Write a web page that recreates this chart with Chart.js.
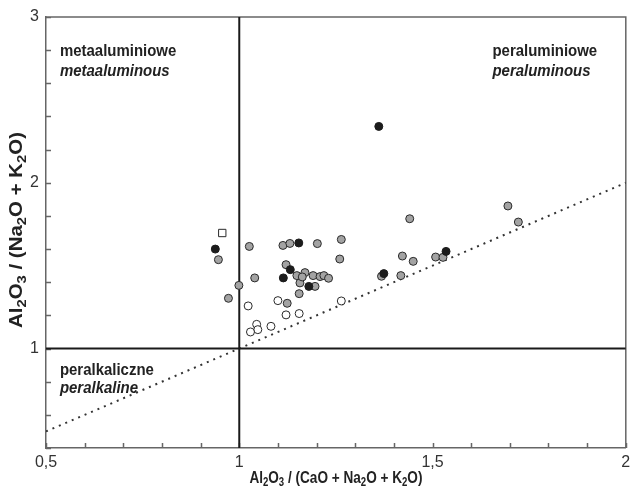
<!DOCTYPE html>
<html>
<head>
<meta charset="utf-8">
<script src="https://cdn.jsdelivr.net/npm/chart.js@4.4.0/dist/chart.umd.min.js"></script>
<style>
  body { margin: 0; background: #fff; }
</style>
</head>
<body>
<canvas id="chart-asi" width="632" height="488"></canvas>
<script>
// samples, [A/CNK, A/NK]
var blackPts = [[1.361, 2.34], [0.938, 1.60], [1.154, 1.637], [1.132, 1.476], [1.114, 1.426],
    [1.180, 1.375], [1.374, 1.452], [1.535, 1.586]];
var grayPts = [[0.946, 1.536], [1.026, 1.616], [0.972, 1.303], [0.999, 1.381], [1.040, 1.426],
    [1.113, 1.622], [1.131, 1.634], [1.202, 1.633], [1.264, 1.658], [1.260, 1.540], [1.121, 1.506],
    [1.149, 1.440], [1.170, 1.458], [1.157, 1.396], [1.163, 1.432], [1.191, 1.440], [1.209, 1.434],
    [1.219, 1.440], [1.231, 1.424], [1.196, 1.375], [1.155, 1.331], [1.124, 1.273], [1.441, 1.783],
    [1.422, 1.558], [1.450, 1.526], [1.418, 1.440], [1.368, 1.436], [1.695, 1.860], [1.722, 1.763],
    [1.508, 1.552], [1.527, 1.550]];
var openPts = [[1.023, 1.257], [1.100, 1.289], [1.264, 1.287], [1.121, 1.203], [1.155, 1.211],
    [1.045, 1.146], [1.048, 1.114], [1.029, 1.100], [1.082, 1.134]];
var squarePts = [[0.956, 1.697]];

// dividing lines
var lineVert = [[1, 0.4], [1, 3]];
var lineHorz = [[0.5, 1], [2, 1]];
var lineDiag = [[0.5, 0.5], [2, 2]];

var xTickLabels = [0.5, 1, 1.5, 2];
var yTickLabels = [1, 2, 3];

// field names
var fieldLabels = [
    { x: 0.536, y: 2.795, t: 'metaaluminiowe', it: false },
    { x: 0.536, y: 2.672, t: 'metaaluminous', it: true },
    { x: 1.655, y: 2.795, t: 'peraluminiowe', it: false },
    { x: 1.655, y: 2.672, t: 'peraluminous', it: true },
    { x: 0.536, y: 0.868, t: 'peralkaliczne', it: false },
    { x: 0.536, y: 0.758, t: 'peralkaline', it: true }
];

// axis titles, split for subscripts
var xTitle = [['Al'], ['2', 1], ['O'], ['3', 1], [' / (CaO + Na'], ['2', 1], ['O + K'], ['2', 1], ['O)']];
var yTitle = [['Al'], ['2', 1], ['O'], ['3', 1], [' / (Na'], ['2', 1], ['O + K'], ['2', 1], ['O)']];

var FONT = "'Liberation Sans', Arial, sans-serif";

function toXY(arr) {
    return arr.map(function (p) { return { x: p[0], y: p[1] }; });
}
function commaNum(v) {
    return String(v).replace('.', ',');
}
function inList(list, v) {
    return list.some(function (l) { return Math.abs(l - v) < 1e-6; });
}

// draws a title with subscripts, squeezed to a given width, centred at 0,0
function drawRich(ctx, parts, target, size) {
    var big = 'bold ' + size + 'px ' + FONT, small = 'bold ' + Math.round(size * 0.7) + 'px ' + FONT;
    var w = 0;
    parts.forEach(function (p) {
        ctx.font = p[1] ? small : big;
        w += ctx.measureText(p[0]).width;
    });
    ctx.scale(target / w, 1);
    var cx = -w / 2;
    ctx.textAlign = 'left';
    ctx.textBaseline = 'alphabetic';
    parts.forEach(function (p) {
        ctx.font = p[1] ? small : big;
        ctx.fillText(p[0], cx, p[1] ? size * 0.53 : size * 0.35);
        cx += ctx.measureText(p[0]).width;
    });
}

var overlay = {
    id: 'overlay',
    beforeDatasetsDraw: function (chart) {
        var ctx = chart.ctx, a = chart.chartArea;
        var xs = chart.scales.x, ys = chart.scales.y;
        ctx.save();
        ctx.strokeStyle = '#666';
        ctx.lineWidth = 1.5;
        ctx.beginPath();
        ctx.moveTo(a.left, a.top);
        ctx.lineTo(a.right, a.top);
        ctx.lineTo(a.right, a.bottom);
        // inward ticks
        xs.ticks.forEach(function (t) {
            var px = Math.round(xs.getPixelForValue(t.value)) + 0.5;
            ctx.moveTo(px, a.bottom);
            ctx.lineTo(px, a.bottom - 5);
        });
        ys.ticks.forEach(function (t) {
            var py = Math.round(ys.getPixelForValue(t.value)) + 0.5;
            ctx.moveTo(a.left, py);
            ctx.lineTo(a.left + 5, py);
        });
        ctx.stroke();
        ctx.restore();
    },
    afterDatasetsDraw: function (chart) {
        var ctx = chart.ctx, a = chart.chartArea;
        var xs = chart.scales.x, ys = chart.scales.y;
        ctx.save();
        ctx.fillStyle = '#222';
        ctx.textAlign = 'left';
        ctx.textBaseline = 'middle';
        fieldLabels.forEach(function (l) {
            ctx.save();
            ctx.font = (l.it ? 'italic ' : '') + 'bold 17px ' + FONT;
            ctx.translate(xs.getPixelForValue(l.x), ys.getPixelForValue(l.y));
            ctx.scale(0.88, 1);
            ctx.fillText(l.t, 0, 0);
            ctx.restore();
        });

        ctx.save();
        ctx.translate((a.left + a.right) / 2, 477);
        drawRich(ctx, xTitle, 173, 17);
        ctx.restore();

        ctx.save();
        ctx.translate(16, 230);
        ctx.rotate(-Math.PI / 2);
        drawRich(ctx, yTitle, 196, 18);
        ctx.restore();
        ctx.restore();
    }
};

var ctxA = document.getElementById('chart-asi').getContext('2d');
var asiChart = new Chart(ctxA, {
    type: 'scatter',
    data: {
        datasets: [{
            label: 'black',
            data: toXY(blackPts),
            backgroundColor: '#1c1c1c',
            borderColor: '#1c1c1c',
            borderWidth: 1,
            pointRadius: 4
        }, {
            label: 'gray',
            data: toXY(grayPts),
            backgroundColor: '#a3a3a3',
            borderColor: '#2a2a2a',
            borderWidth: 1,
            pointRadius: 4
        }, {
            label: 'open',
            data: toXY(openPts),
            backgroundColor: '#ffffff',
            borderColor: '#2a2a2a',
            borderWidth: 1,
            pointRadius: 4
        }, {
            label: 'square',
            data: toXY(squarePts),
            pointStyle: 'rect',
            backgroundColor: '#ffffff',
            borderColor: '#2a2a2a',
            borderWidth: 1,
            pointRadius: 5.2
        }, {
            label: 'vert',
            data: toXY(lineVert),
            showLine: true,
            borderColor: '#1a1a1a',
            borderWidth: 2,
            pointRadius: 0
        }, {
            label: 'horz',
            data: toXY(lineHorz),
            showLine: true,
            borderColor: '#1a1a1a',
            borderWidth: 2,
            pointRadius: 0
        }, {
            label: 'diag',
            data: toXY(lineDiag),
            showLine: true,
            borderColor: '#333',
            borderWidth: 2,
            borderDash: [2, 5],
            pointRadius: 0
        }]
    },
    options: {
        responsive: false,
        animation: false,
        layout: {
            padding: { top: 17, right: 0, left: 0, bottom: 0 }
        },
        plugins: {
            legend: { display: false },
            tooltip: { enabled: false }
        },
        scales: {
            x: {
                type: 'linear',
                min: 0.5,
                max: 2,
                afterFit: function (s) {
                    s.height = 40;
                    s.paddingRight = 5;
                },
                grid: { display: false, drawTicks: false },
                border: { display: true, color: '#666', width: 1.5 },
                ticks: {
                    stepSize: 0.1,
                    autoSkip: false,
                    maxRotation: 0,
                    padding: 5,
                    color: '#333',
                    font: { family: FONT, size: 16 },
                    callback: function (v) { return inList(xTickLabels, v) ? commaNum(v) : ''; }
                }
            },
            y: {
                type: 'linear',
                min: 0.4,
                max: 3,
                afterFit: function (s) { s.width = 46; },
                grid: { display: false, drawTicks: false },
                border: { display: true, color: '#666', width: 1.5 },
                ticks: {
                    stepSize: 0.2,
                    autoSkip: false,
                    padding: 7,
                    color: '#333',
                    font: { family: FONT, size: 16 },
                    callback: function (v) { return inList(yTickLabels, v) ? commaNum(v) : ''; }
                }
            }
        }
    },
    plugins: [overlay]
});
</script>
</body>
</html>
